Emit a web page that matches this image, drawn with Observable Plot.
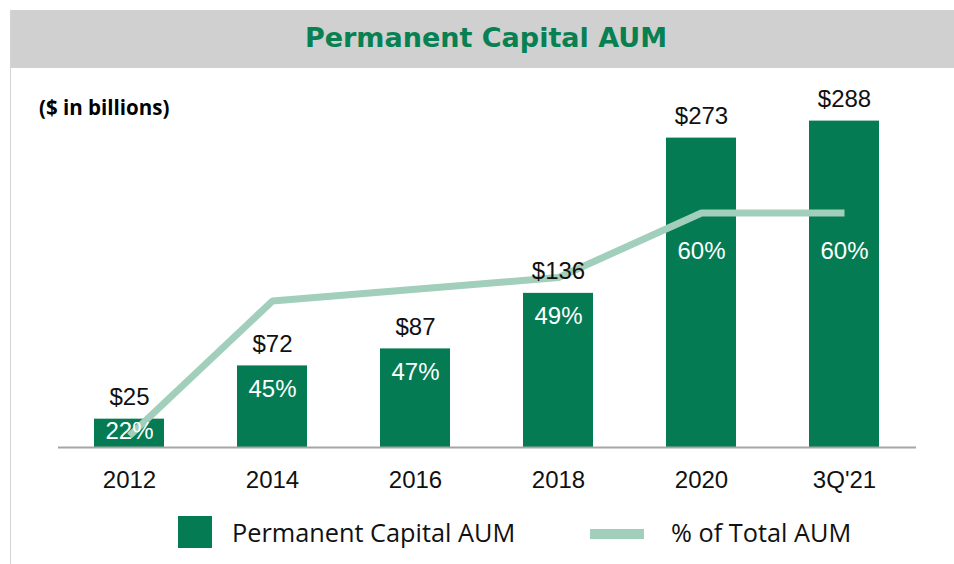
<!DOCTYPE html>
<html>
<head>
<meta charset="utf-8">
<script src="https://cdn.jsdelivr.net/npm/d3@7"></script>
<script src="https://cdn.jsdelivr.net/npm/@observablehq/plot@0.6"></script>
<style>
  html, body { margin: 0; padding: 0; background: #fff; }
  #wrap { position: relative; width: 954px; height: 564px; overflow: hidden; font-family: "Liberation Sans", Arial, sans-serif; }
  #border { position: absolute; left: 10px; top: 10px; width: 1px; height: 554px; background: #d4d4d4; }
  #header { position: absolute; left: 10px; top: 10px; width: 944px; height: 58px; background: #d0d0d0;
            display: flex; align-items: center; justify-content: center; }
  #header span { font-family: "DejaVu Sans", Verdana, sans-serif; font-weight: bold; font-size: 27px; color: #078052; margin-left: 8px; margin-top: -3px; }
  #units { position: absolute; left: 39px; top: 93px; font-family: "Open Sans", sans-serif; font-weight: bold; font-size: 20.5px; color: #000; }
  #chart { position: absolute; left: 0; top: 68px; }
  #legend { position: absolute; left: 0; top: 516px; width: 954px; height: 34px; font-family: "Open Sans", sans-serif; font-size: 25.3px; color: #111; line-height: normal; }
  .sw-bar { position: absolute; left: 178px; top: 0; width: 34px; height: 32px; background: #047b53; }
  .lb1 { position: absolute; left: 232px; top: -1px; }
  .sw-line { position: absolute; left: 590px; top: 13px; width: 54px; height: 10px; background: #a2cfbc; }
  .lb2 { position: absolute; left: 671px; top: -1px; }
</style>
</head>
<body>
<div id="wrap">
  <div id="header"><span>Permanent Capital AUM</span></div>
  <div id="border"></div>
  <div id="units">($ in billions)</div>
  <div id="chart"></div>
  <div id="legend">
    <div class="sw-bar"></div><div class="lb1">Permanent Capital AUM</div>
    <div class="sw-line"></div><div class="lb2">% of Total AUM</div>
  </div>
</div>
<script>
// ---- data ----
const categories = ["2012", "2014", "2016", "2018", "2020", "3Q'21"];
const aum = [25, 72, 87, 136, 273, 288];          // Permanent Capital AUM, $bn
const pctOfTotal = [22, 45, 47, 49, 60, 60];       // % of Total AUM

// axes domains
const aumDomain = [0, 300];
const pctDomain = [20, 78];                         // secondary axis

const green = "#047b53";
const lineColor = "#a2cfbc";

const height = 430, marginTop = 39, marginBottom = 51;
const pxPerUnit = (height - marginTop - marginBottom) / (aumDomain[1] - aumDomain[0]);

// map secondary axis onto primary axis units
const pctToAum = d3.scaleLinear().domain(pctDomain).range(aumDomain);

const data = categories.map((c, i) => ({cat: c, aum: aum[i], pct: pctOfTotal[i], line: pctToAum(pctOfTotal[i])}));

// percent-label placement: below bar top / below line, kept inside the bar
data.forEach(d => {
  d.pctLabelY = Math.max(Math.min(d.aum - 31 / pxPerUnit, d.line - 46 / pxPerUnit), 9 / pxPerUnit);
});

const chart = Plot.plot({
  width: 954,
  height,
  marginTop,
  marginBottom,
  marginLeft: 58,
  marginRight: 38,
  style: {fontFamily: "'Liberation Sans', Arial, sans-serif", background: "transparent", overflow: "visible"},
  x: {domain: categories, paddingInner: 0.51, paddingOuter: 0.25, label: null},
  y: {domain: aumDomain, axis: null},
  marks: [
    Plot.barY(data, {x: "cat", y: "aum", fill: green}),
    Plot.ruleY([0], {stroke: "#a6a6a6", strokeWidth: 2}),
    Plot.axisX({tickSize: 0, tickPadding: 23, fontSize: 24, fill: "#111", label: null}),
    Plot.line(data, {x: "cat", y: "line", stroke: lineColor, strokeWidth: 7, strokeLinecap: "butt", strokeLinejoin: "miter"}),
    Plot.text(data, {x: "cat", y: "aum", text: d => "$" + d.aum, dy: -14, lineAnchor: "bottom", fontSize: 24, fill: "#111"}),
    Plot.text(data, {x: "cat", y: "pctLabelY", text: d => d.pct + "%", lineAnchor: "bottom", fontSize: 24, fill: "#fff"})
  ]
});
document.getElementById("chart").appendChild(chart);
</script>
</body>
</html>
